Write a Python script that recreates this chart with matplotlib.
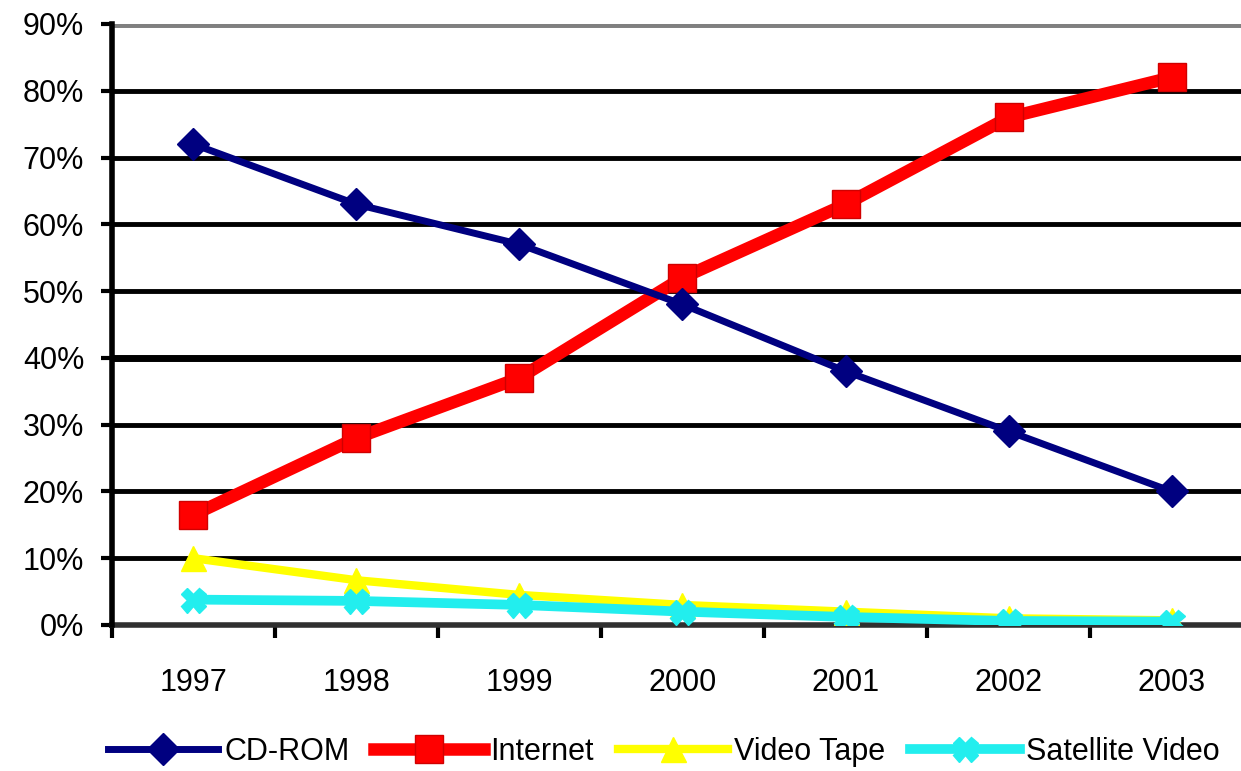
import matplotlib
import matplotlib.pyplot as plt
from matplotlib.ticker import FuncFormatter, MultipleLocator
matplotlib.use('Agg')

years = ["1997", "1998", "1999", "2000", "2001", "2002", "2003"]
cd_rom = [72, 63, 57, 48, 38, 29, 20]
internet = [16.5, 28, 37, 52, 63, 76, 82]
video_tape = [10, 6.7, 4.5, 3, 2, 1, 0.7]
satellite = [3.8, 3.6, 3, 2, 1.2, 0.6, 0.5]
grid_levels = [10, 20, 30, 40, 50, 60, 70, 80, 90]


def main():
    """dessine le graphique des supports de formation"""
    plt.rcParams['font.family'] = ['Liberation Sans', 'DejaVu Sans']
    fig = plt.figure(figsize=(12.41, 7.71), dpi=100)
    ax = fig.add_axes([0.0902, 0.1894, 0.9195, 0.7795])

    x = list(range(len(years)))
    ax.plot(x, cd_rom, color="#000080", lw=5, marker="D", ms=16,
            label="CD-ROM", zorder=5)
    ax.plot(x, internet, color="#ff0000", lw=9, marker="s", ms=20,
            mec="#d00000", label="Internet", zorder=4)
    ax.plot(x, video_tape, color="#ffff00", lw=6, marker="^", ms=18,
            label="Video Tape", zorder=3)
    ax.plot(x, satellite, color="#22eeee", lw=7, marker="X", ms=18,
            label="Satellite Video", zorder=3)

    # lignes de grille
    for level in grid_levels:
        if level == 90:
            ax.axhline(level, color="#808080", lw=5, zorder=1)
        elif level == 40:
            ax.axhline(level, color="black", lw=5, zorder=1)
        else:
            ax.axhline(level, color="black", lw=3.5, zorder=1)

    ax.set_xlim(-0.5, len(years) - 0.5)
    ax.set_ylim(0, 90)
    ax.yaxis.set_major_locator(MultipleLocator(10))
    ax.yaxis.set_major_formatter(FuncFormatter(lambda v, p: f"{v:.0f}%"))
    ax.set_xticks([i - 0.5 for i in range(len(years) + 1)])
    ax.set_xticklabels([])
    ax.set_xticks(x, minor=True)
    ax.set_xticklabels(years, minor=True)
    ax.tick_params(axis="x", which="minor", length=0, pad=31, labelsize=22)
    ax.tick_params(axis="x", which="major", length=9, width=3, direction="out")
    ax.tick_params(axis="y", length=8, width=3, pad=12, labelsize=22)

    for side in ["top", "right"]:
        ax.spines[side].set_visible(False)
    ax.spines["left"].set_linewidth(4)
    ax.spines["left"].set_zorder(6)
    ax.spines["bottom"].set_linewidth(4)
    ax.spines["bottom"].set_color("#303030")

    fig.legend(loc="center", bbox_to_anchor=(0.535, 0.025), ncol=4,
               frameon=False, fontsize=22, handlelength=3.6,
               handletextpad=0.2, columnspacing=0.8, borderaxespad=0)
    fig.savefig("out.png", dpi=100)


if __name__ == "__main__":
    main()
